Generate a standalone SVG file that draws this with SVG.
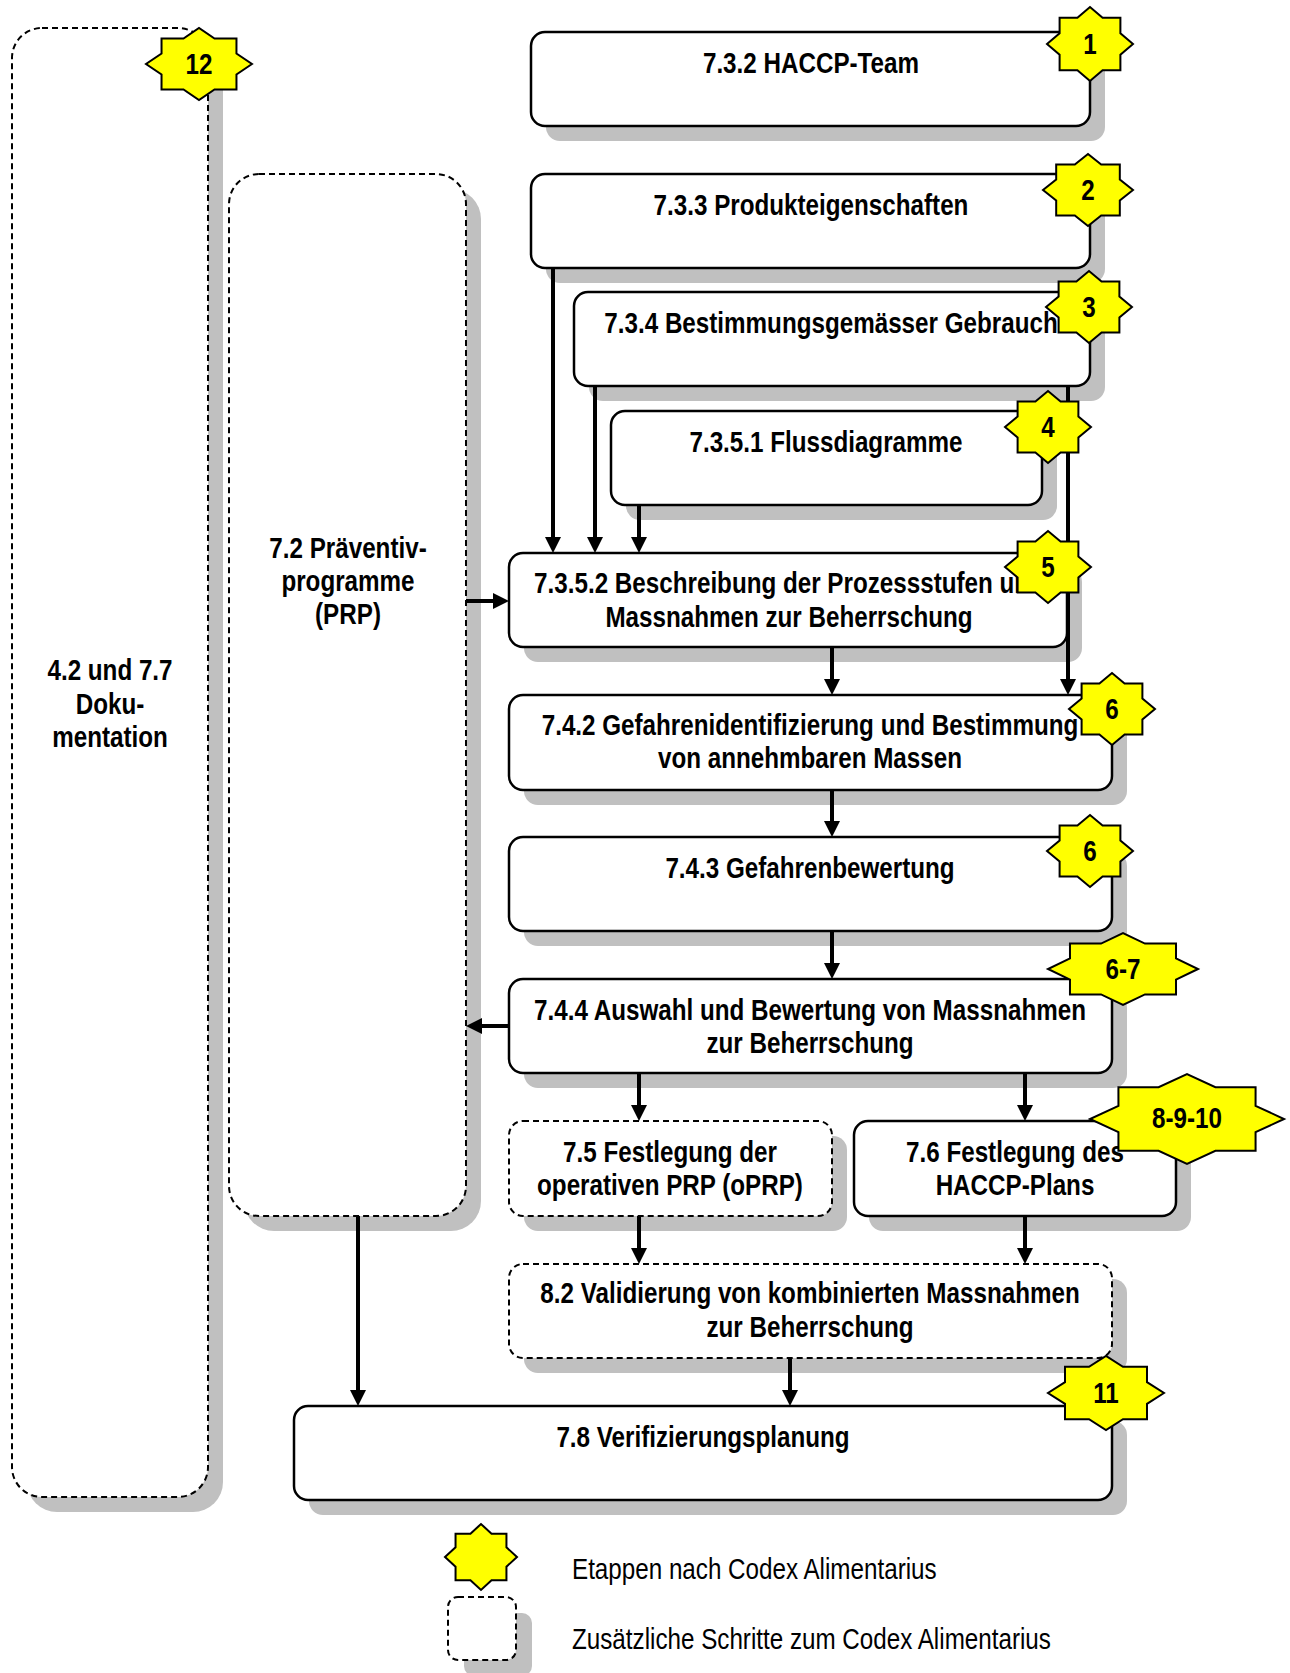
<svg xmlns="http://www.w3.org/2000/svg" xmlns:xlink="http://www.w3.org/1999/xlink" width="1290" height="1673" viewBox="0 0 1290 1673">
<defs>
<style>
.box{fill:#fff;stroke:#000;stroke-width:2.5}
.dash{fill:#fff;stroke:#000;stroke-width:2;stroke-dasharray:6 4}
.sh{fill:#c0c0c0}
.t{font-family:"Liberation Sans",Arial,sans-serif;font-weight:bold;font-size:29px;text-anchor:middle;fill:#000}
.lg{font-family:"Liberation Sans",Arial,sans-serif;font-size:29px;fill:#000}
.star{fill:#ffff00;stroke:#000;stroke-width:2}
.conn line{stroke:#000;stroke-width:4;marker-end:url(#ah)}
</style>
<marker id="ah" markerUnits="userSpaceOnUse" markerWidth="16" markerHeight="16" refX="10" refY="8" orient="auto">
<path d="M0,0 L16,8 L0,16 Z" fill="#000"/>
</marker>
<path id="s8" vector-effect="non-scaling-stroke" d="M1,0 L0.7068,0.2928 L0.7071,0.7071 L0.2928,0.7068 L0,1 L-0.2928,0.7068 L-0.7071,0.7071 L-0.7068,0.2928 L-1,0 L-0.7068,-0.2928 L-0.7071,-0.7071 L-0.2928,-0.7068 L0,-1 L0.2928,-0.7068 L0.7071,-0.7071 L0.7068,-0.2928 Z"/>
</defs>
<rect width="1290" height="1673" fill="#fff"/>

<g id="n-doku">
<rect class="sh" x="27" y="43" width="196" height="1469" rx="30"/>
<rect class="dash" x="12" y="28" width="196" height="1469" rx="30"/>
<text class="t" transform="matrix(0.835 0 0 1 110 0)" x="0" y="680">4.2 und 7.7</text>
<text class="t" transform="matrix(0.835 0 0 1 110 0)" x="0" y="714">Doku-</text>
<text class="t" transform="matrix(0.835 0 0 1 110 0)" x="0" y="747">mentation</text>
</g>

<g id="n-prp">
<rect class="sh" x="244" y="189" width="237" height="1042" rx="30"/>
<rect class="dash" x="229" y="174" width="237" height="1042" rx="30"/>
<text class="t" transform="matrix(0.835 0 0 1 348 0)" x="0" y="558">7.2 Präventiv-</text>
<text class="t" transform="matrix(0.835 0 0 1 348 0)" x="0" y="591">programme</text>
<text class="t" transform="matrix(0.835 0 0 1 348 0)" x="0" y="624">(PRP)</text>
</g>

<g id="n-732">
<rect class="sh" x="546" y="47" width="559" height="94" rx="14"/>
<rect class="box" x="531" y="32" width="559" height="94" rx="14"/>
<text class="t" transform="matrix(0.835 0 0 1 811 0)" x="0" y="73">7.3.2 HACCP-Team</text>
</g>

<g id="n-733">
<rect class="sh" x="546" y="189" width="559" height="94" rx="14"/>
<rect class="box" x="531" y="174" width="559" height="94" rx="14"/>
<text class="t" transform="matrix(0.835 0 0 1 811 0)" x="0" y="215">7.3.3 Produkteigenschaften</text>
</g>

<g id="n-734">
<rect class="sh" x="589" y="307" width="516" height="94" rx="14"/>
<rect class="box" x="574" y="292" width="516" height="94" rx="14"/>
<text class="t" transform="matrix(0.835 0 0 1 831 0)" x="0" y="333">7.3.4 Bestimmungsgemässer Gebrauch</text>
</g>

<g id="n-7351">
<rect class="sh" x="626" y="426" width="431" height="94" rx="14"/>
<rect class="box" x="611" y="411" width="431" height="94" rx="14"/>
<text class="t" transform="matrix(0.835 0 0 1 826 0)" x="0" y="452">7.3.5.1 Flussdiagramme</text>
</g>

<g id="n-7352">
<rect class="sh" x="524" y="568" width="558" height="94" rx="14"/>
<rect class="box" x="509" y="553" width="558" height="94" rx="14"/>
<text class="t" transform="matrix(0.835 0 0 1 789 0)" x="0" y="593">7.3.5.2 Beschreibung der Prozessstufen und</text>
<text class="t" transform="matrix(0.835 0 0 1 789 0)" x="0" y="627">Massnahmen zur Beherrschung</text>
</g>

<g id="n-742">
<rect class="sh" x="524" y="710" width="603" height="95" rx="14"/>
<rect class="box" x="509" y="695" width="603" height="95" rx="14"/>
<text class="t" transform="matrix(0.835 0 0 1 810 0)" x="0" y="735">7.4.2 Gefahrenidentifizierung und Bestimmung</text>
<text class="t" transform="matrix(0.835 0 0 1 810 0)" x="0" y="768">von annehmbaren Massen</text>
</g>

<g id="n-743">
<rect class="sh" x="524" y="852" width="603" height="94" rx="14"/>
<rect class="box" x="509" y="837" width="603" height="94" rx="14"/>
<text class="t" transform="matrix(0.835 0 0 1 810 0)" x="0" y="878">7.4.3 Gefahrenbewertung</text>
</g>

<g id="n-744">
<rect class="sh" x="524" y="994" width="603" height="94" rx="14"/>
<rect class="box" x="509" y="979" width="603" height="94" rx="14"/>
<text class="t" transform="matrix(0.835 0 0 1 810 0)" x="0" y="1020">7.4.4 Auswahl und Bewertung von Massnahmen</text>
<text class="t" transform="matrix(0.835 0 0 1 810 0)" x="0" y="1053">zur Beherrschung</text>
</g>

<g id="n-75">
<rect class="sh" x="524" y="1136" width="323" height="95" rx="14"/>
<rect class="dash" x="509" y="1121" width="323" height="95" rx="14"/>
<text class="t" transform="matrix(0.835 0 0 1 670 0)" x="0" y="1162">7.5 Festlegung der</text>
<text class="t" transform="matrix(0.835 0 0 1 670 0)" x="0" y="1195">operativen PRP (oPRP)</text>
</g>

<g id="n-76">
<rect class="sh" x="869" y="1136" width="322" height="95" rx="14"/>
<rect class="box" x="854" y="1121" width="322" height="95" rx="14"/>
<text class="t" transform="matrix(0.835 0 0 1 1015 0)" x="0" y="1162">7.6 Festlegung des</text>
<text class="t" transform="matrix(0.835 0 0 1 1015 0)" x="0" y="1195">HACCP-Plans</text>
</g>

<g id="n-82">
<rect class="sh" x="524" y="1279" width="603" height="94" rx="14"/>
<rect class="dash" x="509" y="1264" width="603" height="94" rx="14"/>
<text class="t" transform="matrix(0.835 0 0 1 810 0)" x="0" y="1303">8.2 Validierung von kombinierten Massnahmen</text>
<text class="t" transform="matrix(0.835 0 0 1 810 0)" x="0" y="1337">zur Beherrschung</text>
</g>

<g id="n-78">
<rect class="sh" x="309" y="1421" width="818" height="94" rx="14"/>
<rect class="box" x="294" y="1406" width="818" height="94" rx="14"/>
<text class="t" transform="matrix(0.835 0 0 1 703 0)" x="0" y="1447">7.8 Verifizierungsplanung</text>
</g>

<g id="connectors" class="conn">
<line x1="553" y1="268" x2="553" y2="547"/>
<line x1="595" y1="386" x2="595" y2="547"/>
<line x1="639" y1="505" x2="639" y2="547"/>
<line x1="1068" y1="386" x2="1068" y2="689"/>
<line x1="466" y1="601" x2="503" y2="601"/>
<line x1="832" y1="647" x2="832" y2="689"/>
<line x1="832" y1="790" x2="832" y2="831"/>
<line x1="832" y1="931" x2="832" y2="973"/>
<line x1="509" y1="1026" x2="472" y2="1026"/>
<line x1="639" y1="1073" x2="639" y2="1115"/>
<line x1="1025" y1="1073" x2="1025" y2="1115"/>
<line x1="639" y1="1216" x2="639" y2="1258"/>
<line x1="1025" y1="1216" x2="1025" y2="1258"/>
<line x1="790" y1="1358" x2="790" y2="1400"/>
<line x1="358" y1="1216" x2="358" y2="1400"/>
</g>

<g id="star-1"><use xlink:href="#s8" class="star" transform="translate(1090,44) scale(43,37)"/><text class="t" transform="matrix(0.835 0 0 1 1090 0)" x="0" y="54">1</text></g>
<g id="star-2"><use xlink:href="#s8" class="star" transform="translate(1088,190) scale(45,36)"/><text class="t" transform="matrix(0.835 0 0 1 1088 0)" x="0" y="200">2</text></g>
<g id="star-3"><use xlink:href="#s8" class="star" transform="translate(1089,307) scale(43,36)"/><text class="t" transform="matrix(0.835 0 0 1 1089 0)" x="0" y="317">3</text></g>
<g id="star-4"><use xlink:href="#s8" class="star" transform="translate(1048,427) scale(43,36)"/><text class="t" transform="matrix(0.835 0 0 1 1048 0)" x="0" y="437">4</text></g>
<g id="star-5"><use xlink:href="#s8" class="star" transform="translate(1048,567) scale(43,36)"/><text class="t" transform="matrix(0.835 0 0 1 1048 0)" x="0" y="577">5</text></g>
<g id="star-6a"><use xlink:href="#s8" class="star" transform="translate(1112,709) scale(43,36)"/><text class="t" transform="matrix(0.835 0 0 1 1112 0)" x="0" y="719">6</text></g>
<g id="star-6b"><use xlink:href="#s8" class="star" transform="translate(1090,851) scale(43,36)"/><text class="t" transform="matrix(0.835 0 0 1 1090 0)" x="0" y="861">6</text></g>
<g id="star-67"><use xlink:href="#s8" class="star" transform="translate(1123,969) scale(75,36)"/><text class="t" transform="matrix(0.835 0 0 1 1123 0)" x="0" y="979">6-7</text></g>
<g id="star-8910"><use xlink:href="#s8" class="star" transform="translate(1187,1119) scale(97,45)"/><text class="t" transform="matrix(0.835 0 0 1 1187 0)" x="0" y="1128">8-9-10</text></g>
<g id="star-11"><use xlink:href="#s8" class="star" transform="translate(1106,1393) scale(58,37)"/><text class="t" transform="matrix(0.835 0 0 1 1106 0)" x="0" y="1403">11</text></g>
<g id="star-12"><use xlink:href="#s8" class="star" transform="translate(199,64) scale(53,36)"/><text class="t" transform="matrix(0.835 0 0 1 199 0)" x="0" y="74">12</text></g>

<g id="legend">
<use xlink:href="#s8" class="star" transform="translate(481,1557) scale(36,33)"/>
<text class="lg" transform="matrix(0.835 0 0 1 572 0)" x="0" y="1579">Etappen nach Codex Alimentarius</text>
<rect class="sh" x="464" y="1613" width="68" height="63" rx="10"/>
<rect class="dash" x="448" y="1597" width="68" height="63" rx="10"/>
<text class="lg" transform="matrix(0.835 0 0 1 572 0)" x="0" y="1649">Zusätzliche Schritte zum Codex Alimentarius</text>
</g>
</svg>
